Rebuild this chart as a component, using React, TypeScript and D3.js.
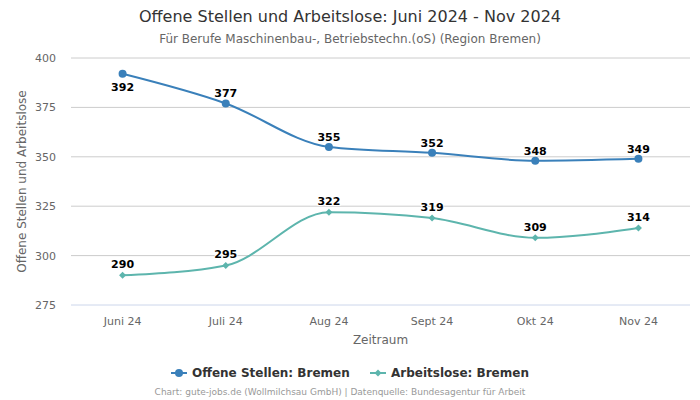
import React from "react";
import * as d3 from "d3";

const categories = ["Juni 24", "Juli 24", "Aug 24", "Sept 24", "Okt 24", "Nov 24"];
const offeneStellen = [392, 377, 355, 352, 348, 349];
const arbeitslose = [290, 295, 322, 319, 309, 314];
const yTicks = [275, 300, 325, 350, 375, 400];

const W = 700, H = 400;
const left = 71, right = 690, top = 58, bottom = 305;
const FONT = "DejaVu Sans, sans-serif";
const BLUE = "#3a80ba";
const TEAL = "#5db5ad";

export default function App() {
  const x = d3.scaleBand<string>().domain(categories).range([left, right]);
  const y = d3.scaleLinear().domain([275, 400]).range([bottom, top]);
  const cx = (c: string) => (x(c) as number) + x.bandwidth() / 2;
  const line = d3.line<number>().x((_, i) => cx(categories[i])).y((d) => y(d)).curve(d3.curveMonotoneX);

  const labelY = (v: number) => {
    const py = y(v);
    return py - 10 < top + 10 ? py + 16 : py - 7;
  };

  return (
    <svg width={W} height={H} style={{ display: "block", position: "absolute", left: 0, top: 0 }} fontFamily={FONT}>
      <rect width={W} height={H} fill="#fff" />
      <text x={350} y={22} textAnchor="middle" fontSize={16} fill="#333">Offene Stellen und Arbeitslose: Juni 2024 - Nov 2024</text>
      <text x={350} y={43} textAnchor="middle" fontSize={12} fill="#666">Für Berufe Maschinenbau-, Betriebstechn.(oS) (Region Bremen)</text>
      {yTicks.map((t) => (
        <g key={t}>
          <line x1={left} x2={right} y1={y(t)} y2={y(t)} stroke={t === 275 ? "#ccd6eb" : "#cccccc"} strokeWidth={1} />
          <text x={56} y={y(t) + 4} textAnchor="end" fontSize={11} fill="#666">{t}</text>
        </g>
      ))}
      <text transform={`translate(26,${(top + bottom) / 2}) rotate(-90)`} textAnchor="middle" fontSize={12} fill="#666">Offene Stellen und Arbeitslose</text>
      {categories.map((c) => (
        <text key={c} x={cx(c)} y={325} textAnchor="middle" fontSize={11} fill="#666">{c}</text>
      ))}
      <text x={(left + right) / 2} y={344} textAnchor="middle" fontSize={12} fill="#666">Zeitraum</text>

      <path d={line(offeneStellen) || ""} fill="none" stroke={BLUE} strokeWidth={2} />
      <path d={line(arbeitslose) || ""} fill="none" stroke={TEAL} strokeWidth={2} />
      {offeneStellen.map((v, i) => (
        <circle key={i} cx={cx(categories[i])} cy={y(v)} r={4} fill={BLUE} />
      ))}
      {arbeitslose.map((v, i) => {
        const px = cx(categories[i]), py = y(v);
        return <path key={i} d={`M${px},${py - 3.5}L${px + 3.5},${py}L${px},${py + 3.5}L${px - 3.5},${py}Z`} fill={TEAL} />;
      })}
      {offeneStellen.map((v, i) => (
        <text key={i} x={cx(categories[i])} y={labelY(v) + 1} textAnchor="middle" fontSize={11} fontWeight="bold" fill="#000" stroke="#fff" strokeWidth={2} paintOrder="stroke">{v}</text>
      ))}
      {arbeitslose.map((v, i) => (
        <text key={i} x={cx(categories[i])} y={labelY(v)} textAnchor="middle" fontSize={11} fontWeight="bold" fill="#000" stroke="#fff" strokeWidth={2} paintOrder="stroke">{v}</text>
      ))}

      <g fontSize={12} fontWeight="bold" fill="#333">
        <line x1={171} x2={187} y1={373} y2={373} stroke={BLUE} strokeWidth={2} />
        <circle cx={179} cy={373} r={4} fill={BLUE} />
        <text x={192} y={377}>Offene Stellen: Bremen</text>
        <line x1={370} x2={386} y1={373} y2={373} stroke={TEAL} strokeWidth={2} />
        <path d="M378,369.5L381.5,373L378,376.5L374.5,373Z" fill={TEAL} />
        <text x={391} y={377}>Arbeitslose: Bremen</text>
      </g>
      <text x={340} y={395} textAnchor="middle" fontSize={9} fill="#999">Chart: gute-jobs.de (Wollmilchsau GmbH) | Datenquelle: Bundesagentur für Arbeit</text>
    </svg>
  );
}
